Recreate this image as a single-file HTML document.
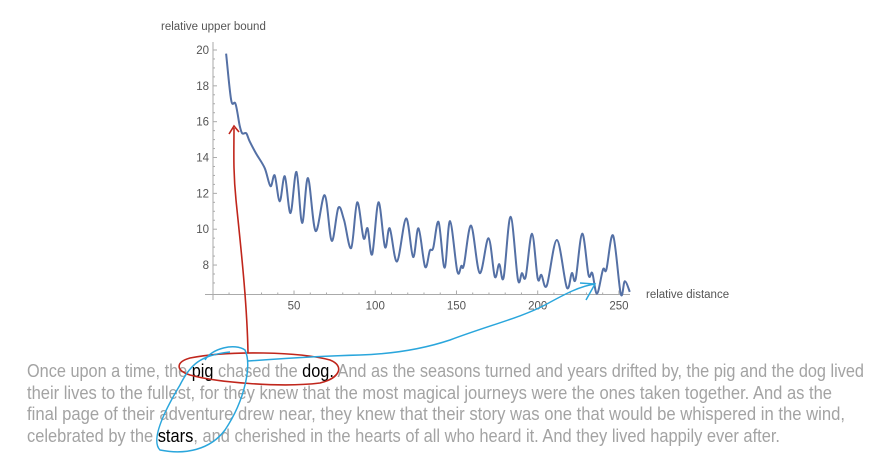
<!DOCTYPE html>
<html><head><meta charset="utf-8"><style>
html,body{margin:0;padding:0;background:#fff;width:896px;height:473px;overflow:hidden}
svg{display:block;font-family:"Liberation Sans",sans-serif}
</style></head><body>
<svg id="chart" width="896" height="473">
<g id="axes"></g>
<path id="series" fill="none" stroke="#5470a5" stroke-width="2"/>
<text x="161" y="30" font-size="11.5" fill="#555">relative upper bound</text>
<text x="646" y="298" font-size="11.5" fill="#555">relative distance</text>
<g font-size="18" fill="#a3a3a3">
<text x="27" y="377" textLength="837" lengthAdjust="spacingAndGlyphs">Once upon a time, the <tspan fill="#000">pig</tspan> chased the <tspan fill="#000">dog.</tspan> And as the seasons turned and years drifted by, the pig and the dog lived</text>
<text x="27" y="399" textLength="805" lengthAdjust="spacingAndGlyphs">their lives to the fullest, for they knew that the most magical journeys were the ones taken together. And as the</text>
<text x="27" y="420" textLength="818" lengthAdjust="spacingAndGlyphs">final page of their adventure drew near, they knew that their story was one that would be whispered in the wind,</text>
<text x="27" y="442" textLength="753" lengthAdjust="spacingAndGlyphs">celebrated by the <tspan fill="#000">stars</tspan>, and cherished in the hearts of all who heard it. And they lived happily ever after.</text>
</g>
<g fill="none" stroke="#c0261c" stroke-width="1.6">
<path d="M190,358 C230,350 300,352 330,360 C345,366 340,378 320,383 C280,388 215,382 190,375 C175,370 176,362 190,358 Z"/>
<path d="M248,353 C247,300 240,240 236,200 C233,170 234,150 234,128"/>
<path d="M229,134 L234,126 L239,132"/>
</g>
<g fill="none" stroke="#2aa6dc" stroke-width="1.5">
<path d="M205,360 C212,348 235,343 245,350 C252,365 245,400 225,430 C210,450 185,455 160,450 C150,440 165,410 180,385 C190,365 200,355 230,352"/>
<path d="M248,361 C290,358 320,356 360,355 C390,354 420,350 450,340 C490,325 520,318 545,305 C565,294 580,286 595,284"/>
<path d="M580,283 L595,284 L586,300"/>
</g>
</svg>
<script>
const tickValuesX=[50,100,150,200,250];
const tickValuesY=[8,10,12,14,16,18,20];
const distances=[8.2,11.3,14,16.5,18.1,20.6,22.7,26.8,32,35.5,38.1,41.2,44.3,47.8,51.5,55,58.6,63.3,68.9,73.2,77.3,80.8,85.2,88.9,92.8,95.3,98.1,102,106,108.9,113.4,119,123.3,126.6,130.7,133.6,135.7,139,142.7,146,150.5,153,154.6,159,164.3,169.7,173.6,176.3,179,183.3,187.8,190.3,192.6,196.5,200,202.3,205.6,211.8,217.9,221,223.3,227.4,231.3,233.6,236.5,240.2,242.3,246.4,251.1,253.6,256.7];
const bounds=[19.8,17.2,17.0,15.8,15.35,15.35,14.9,14.2,13.4,12.4,13.0,11.55,12.95,10.9,13.2,10.35,12.85,9.9,11.9,9.35,11.2,10.5,8.95,11.5,9.5,10.05,8.6,11.5,9.0,10.05,8.2,10.6,8.45,10.05,7.9,8.8,8.95,10.4,7.85,10.45,7.65,7.95,8.0,10.2,7.55,9.5,7.35,8.05,7.3,10.7,7.2,7.55,7.35,9.75,7.25,7.45,6.85,9.4,6.75,7.55,7.2,9.75,7.45,7.55,6.4,7.75,7.75,9.65,6.4,7.1,6.5];
const sx=v=>212.8+v*1.6245;
const sy=v=>50+(20-v)*17.92;
const NS='http://www.w3.org/2000/svg';
const axes=document.getElementById('axes');
function mk(tag,attrs){const e=document.createElementNS(NS,tag);for(const k in attrs)e.setAttribute(k,attrs[k]);axes.appendChild(e);return e;}
const axisY=294.5;
let xl=mk('line',{x1:205,y1:axisY,x2:630,y2:axisY,stroke:'#aaa','stroke-width':1});


let yl=mk('line',{x1:213,y1:42,x2:213,y2:300,stroke:'#aaa','stroke-width':1});


for(let v=10;v<=255;v+=10){const x=sx(v);mk('line',{x1:x,y1:axisY,x2:x,y2:axisY-(v%50===0?4:2),stroke:'#aaa'});}
for(let v=7;v<=20;v+=0.5){const y=sy(v);mk('line',{x1:213,y1:y,x2:213+(v%2===0?4:2),y2:y,stroke:'#aaa'});}
tickValuesX.forEach(v=>{const t=mk('text',{x:sx(v),y:axisY+15,'font-size':11.5,fill:'#555','text-anchor':'middle'});t.textContent=v;

});
tickValuesY.forEach(v=>{const t=mk('text',{x:209,y:sy(v)+4,'font-size':11.5,fill:'#555','text-anchor':'end'});t.textContent=v;

});
const pts=distances.map((d,i)=>[sx(d),sy(bounds[i])]);
let d='M'+pts[0][0].toFixed(1)+','+pts[0][1].toFixed(1);
for(let i=0;i<pts.length-1;i++){const p0=pts[Math.max(0,i-1)],p1=pts[i],p2=pts[i+1],p3=pts[Math.min(pts.length-1,i+2)];
const c1=[p1[0]+(p2[0]-p0[0])/6,p1[1]+(p2[1]-p0[1])/6],c2=[p2[0]-(p3[0]-p1[0])/6,p2[1]-(p3[1]-p1[1])/6];
d+=` C${c1[0].toFixed(1)},${c1[1].toFixed(1)} ${c2[0].toFixed(1)},${c2[1].toFixed(1)} ${p2[0].toFixed(1)},${p2[1].toFixed(1)}`;}
document.getElementById('series').setAttribute('d',d);
</script>
</body></html>
